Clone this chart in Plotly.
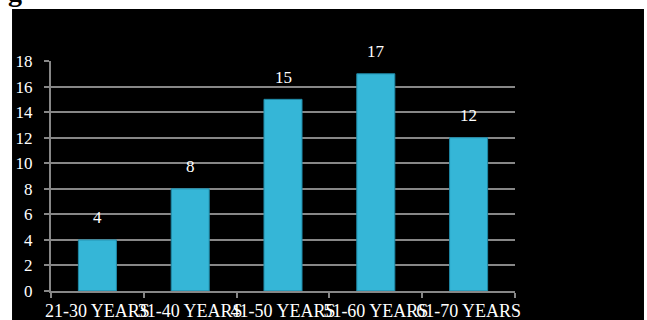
import plotly.graph_objects as go

categories = ["21-30 YEARS", "31-40 YEARS", "41-50 YEARS", "51-60 YEARS", "61-70 YEARS"]
values = [4, 8, 15, 17, 12]
y_ticks = [0, 2, 4, 6, 8, 10, 12, 14, 16, 18]

FONT = "Liberation Serif, Times New Roman, serif"
GRID = "#878787"

fig = go.Figure()
fig.add_trace(go.Bar(
    x=categories, y=values,
    marker=dict(color="#35b6d7", line=dict(color="#1f88a5", width=1)),
    showlegend=False,
))

for c, v in zip(categories, values):
    fig.add_annotation(x=c, y=v, text=str(v), showarrow=False, yshift=22,
                       font=dict(family=FONT, size=17, color="white"))

# black panel behind the chart
fig.add_shape(type="rect", xref="paper", yref="paper", layer="below",
              x0=-0.084, x1=1.278, y0=-0.13, y1=1.226,
              fillcolor="black", line=dict(width=0))

# cut-off heading glyph at the top-left
fig.add_annotation(xref="paper", yref="paper", x=-0.098, y=1.226, xanchor="left", yanchor="bottom",
                   text="<b>g</b>", showarrow=False, yshift=0,
                   font=dict(family=FONT, size=28, color="black"))

fig.update_layout(
    width=647, height=320,
    margin=dict(l=51, r=132, t=61, b=29),
    paper_bgcolor="white",
    plot_bgcolor="#404040",
    bargap=0.59,
    font=dict(family=FONT, size=17, color="white"),
    xaxis=dict(
        type="category", range=[-0.5, 4.5], automargin=False, tickangle=0,
        showgrid=False, showline=True, linecolor=GRID, linewidth=2,
        ticks="outside", tickson="boundaries", ticklen=5, tickcolor=GRID, tickwidth=2,
        ticklabelstandoff=2,
        tickfont=dict(family=FONT, size=18, color="white"),
    ),
    yaxis=dict(
        range=[0, 18], tickvals=y_ticks, ticktext=[str(t) for t in y_ticks],
        automargin=False,
        showgrid=True, gridcolor=GRID, gridwidth=2, zeroline=False,
        showline=True, linecolor=GRID, linewidth=2,
        ticks="outside", ticklen=5, tickcolor=GRID, tickwidth=2,
        ticklabelstandoff=8,
        tickfont=dict(family=FONT, size=17, color="white"),
    ),
)

fig.write_html("out.html", config={"displayModeBar": False},
               post_script="document.body.style.margin='0';document.body.style.overflow='hidden';")
